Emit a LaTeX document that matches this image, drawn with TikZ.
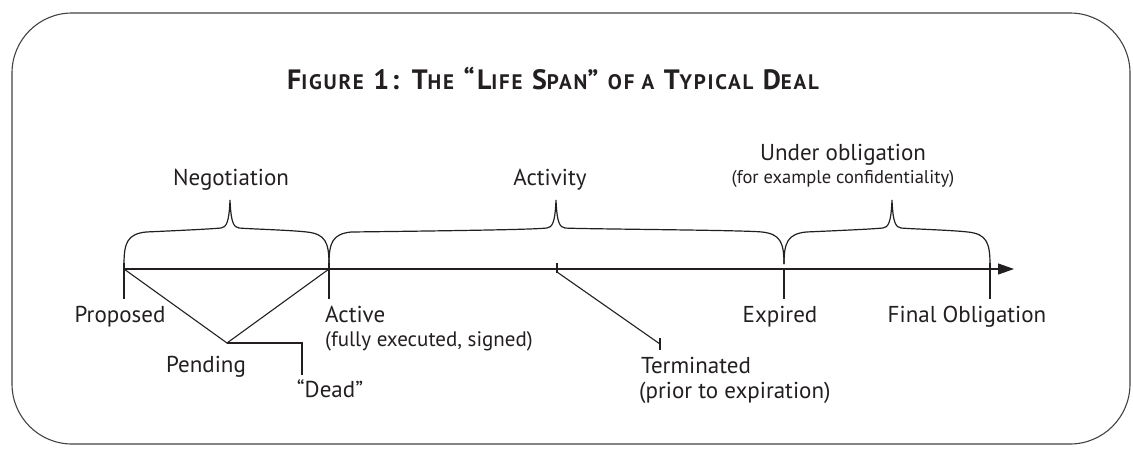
\documentclass[tikz,border=0pt]{standalone}
\usepackage{fontspec}
\setmainfont{PT Sans}
\newfontfamily\headfont[LetterSpace=8.5]{PT Sans}
\usetikzlibrary{arrows.meta,calc}
\definecolor{ink}{HTML}{231F20}
% fake small caps for the heading
\newcommand\smc[1]{{\fontsize{21}{24}\selectfont #1}}
\newcommand\dealbrace[3]{% left end, peak, right end (x values)
  \draw[bracepath] (#1,264) .. controls (#1,242) and (#1+4,234) .. (#1+22,232)
    .. controls (#2-40,230) and (#2-20,229) .. (#2-9,228)
    .. controls (#2-4,227) and (#2-1,224) .. (#2,200)
    .. controls (#2+1,224) and (#2+4,227) .. (#2+9,228)
    .. controls (#2+20,229) and (#3-40,230) .. (#3-22,232)
    .. controls (#3-4,234) and (#3,242) .. (#3,264);}
\begin{document}
\begin{tikzpicture}[x=1pt,y=-1pt,
  frame/.style={draw=ink!85, line width=1.1pt, rounded corners=60pt},
  axis/.style={draw=ink, line width=1.1pt},
  tickmark/.style={draw=ink, line width=2.6pt},
  thin/.style={draw=ink, line width=1.1pt},
  bracepath/.style={draw=ink, line width=1.2pt},
  lbl/.style={font=\fontsize{23}{27}\selectfont, text=ink, inner sep=0pt},
  sublbl/.style={font=\fontsize{18.5}{22}\selectfont, text=ink, inner sep=0pt},
  heading/.style={font=\headfont\bfseries\fontsize{28}{32}\selectfont, text=ink, inner sep=0pt}]
\useasboundingbox (0,0) rectangle (1133,448);
\draw[frame] (12,13) rectangle (1130,444);

% heading
\node[heading, anchor=base] (title) at (553,89)
  {F\smc{IGURE} 1: T\smc{HE} “L\smc{IFE} S\smc{PAN}” \smc{OF A} T\smc{YPICAL} D\smc{EAL}};

% milestones on the time line
\coordinate (prop) at (124,269);
\coordinate (act) at (329,269);
\coordinate (mid) at (557,269);
\coordinate (exp) at (784,269);
\coordinate (fin) at (990,269);
\coordinate (tip) at (1014,269);
\coordinate (pend) at (227,343);
\coordinate (deadend) at (302,343);
\coordinate (term) at (660,344);

\draw[axis, -{Triangle[length=16pt,width=11pt]}] (prop) -- (tip);

% braces over the phases
\dealbrace{124}{230}{329}
\dealbrace{329}{556}{784}
\dealbrace{784}{892}{990}

% tick marks
\draw[tickmark] ($(prop)+(0,-6)$) -- ($(prop)+(0,30)$);
\draw[tickmark] ($(act)+(0,-6)$) -- ($(act)+(0,30)$);
\draw[tickmark] ($(mid)+(0,-6)$) -- ($(mid)+(0,4)$);
\draw[tickmark] (exp) -- ($(exp)+(0,30)$);
\draw[tickmark] ($(fin)+(0,-6)$) -- ($(fin)+(0,30)$);

% pending branch
\draw[thin] (prop) -- (pend) -- (act);
\draw[thin] (pend) -- (deadend);
\draw[tickmark] ($(deadend)+(0,-1)$) -- ($(deadend)+(0,32)$);

% termination branch
\draw[thin] ($(mid)+(0,3)$) -- (term);
\draw[tickmark] ($(term)+(0,-6)$) -- ($(term)+(0,6)$);

% phase labels
\node[lbl, anchor=base] (neg) at (231,185) {Negotiation};
\node[lbl, anchor=base] (actv) at (550,185) {Activity};
\node[lbl, anchor=base] (under) at (843,160) {Under obligation};
\node[sublbl, anchor=base] (undersub) at (843,183) {(for example confidentiality)};

% state labels
\node[lbl, anchor=base] (lprop) at (120,322) {Proposed};
\node[lbl, anchor=base west] (lact) at (325,322) {Active};
\node[sublbl, font=\fontsize{21}{24}\selectfont, anchor=base west] (lactsub) at (325,346) {(fully executed, signed)};
\node[lbl, anchor=base] (lpend) at (206,372) {Pending};
\node[lbl, anchor=base] (ldead) at (330,397) {“Dead”};
\node[lbl, anchor=base west] (lterm) at (641,373) {Terminated};
\node[lbl, anchor=base west] (ltermsub) at (639,398) {(prior to expiration)};
\node[lbl, anchor=base] (lexp) at (780,322) {Expired};
\node[lbl, anchor=base] (lfin) at (967,322) {Final Obligation};
\end{tikzpicture}
\end{document}
